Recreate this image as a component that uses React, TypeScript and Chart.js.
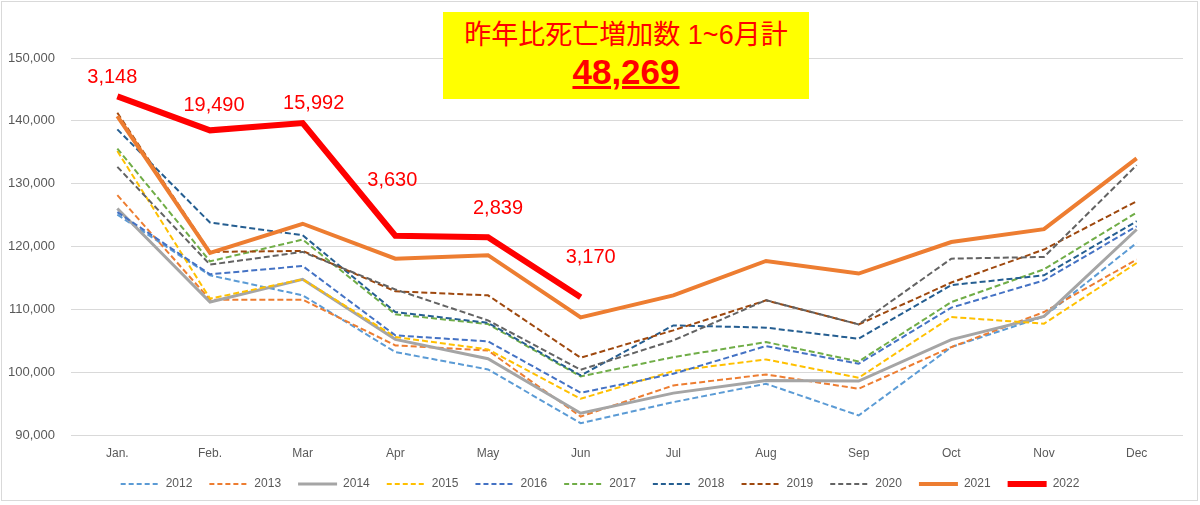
import React, { useRef, useEffect } from 'react';
import { Chart, ChartConfiguration, Plugin, registerables } from 'chart.js';

Chart.register(...registerables);

const months = ['Jan.', 'Feb.', 'Mar', 'Apr', 'May', 'Jun', 'Jul', 'Aug', 'Sep', 'Oct', 'Nov', 'Dec'];

const d2012 = [125100, 115450, 112270, 103250, 100490, 91940, 95290, 98210, 93170, 104040, 108900, 120600];
const d2013 = [128190, 111580, 111580, 104310, 103500, 93000, 97940, 99690, 97420, 104040, 109610, 117950];
const d2014 = [126070, 111200, 114820, 105270, 102190, 93530, 96720, 98740, 98630, 105220, 108930, 122730];
const d2015 = [135200, 111740, 114820, 105640, 103670, 95820, 100230, 102080, 99160, 108820, 107760, 117410];
const d2016 = [125500, 115610, 116940, 105900, 104950, 96780, 99800, 104200, 101390, 110310, 114650, 123250];
const d2017 = [135600, 117680, 121130, 109250, 107700, 99370, 102450, 104840, 101760, 111200, 116410, 125430];
const d2018 = [138650, 123840, 121820, 109610, 107900, 99530, 107490, 107130, 105370, 113900, 115450, 124050];
const d2019 = [141300, 119170, 119330, 112900, 112270, 102350, 106700, 111470, 107650, 114300, 119550, 127230];
const d2020 = [132700, 117150, 119170, 113200, 108290, 100440, 105100, 111500, 107650, 118100, 118370, 132960];
const d2021 = [140750, 119000, 123650, 118100, 118650, 108750, 112270, 117730, 115730, 120750, 122780, 134030];
const d2022 = [143900, 138500, 139650, 121750, 121500, 111950];

// 前年比の増加数（2022のラベル）
const increaseLabels = ['3,148', '19,490', '15,992', '3,630', '2,839', '3,170'];
const totalIncrease = '48,269';

// ラベルの位置ずらし [dx, dy]
const labelOffsets = [[-5, -19], [4, -25], [11, -20], [-3, -55], [10, -29], [10, -40]];

const dash = [6, 3];

const series = [
  { label: '2012', data: d2012, color: '#5B9BD5', width: 2, dashed: true },
  { label: '2013', data: d2013, color: '#ED7D31', width: 2, dashed: true },
  { label: '2014', data: d2014, color: '#A5A5A5', width: 3, dashed: false },
  { label: '2015', data: d2015, color: '#FFC000', width: 2, dashed: true },
  { label: '2016', data: d2016, color: '#4472C4', width: 2, dashed: true },
  { label: '2017', data: d2017, color: '#70AD47', width: 2, dashed: true },
  { label: '2018', data: d2018, color: '#255E91', width: 2, dashed: true },
  { label: '2019', data: d2019, color: '#9E480E', width: 2, dashed: true },
  { label: '2020', data: d2020, color: '#636363', width: 2, dashed: true },
  { label: '2021', data: d2021, color: '#ED7D31', width: 4, dashed: false },
  { label: '2022', data: d2022, color: '#FF0000', width: 6, dashed: false },
];

const labelPlugin: Plugin<'line'> = {
  id: 'increaseLabels',
  afterDatasetsDraw(chart) {
    const meta = chart.getDatasetMeta(series.length - 1);
    const ctx = chart.ctx;
    ctx.save();
    ctx.font = '20px "Liberation Sans", Arial, sans-serif';
    ctx.fillStyle = '#FF0000';
    ctx.textAlign = 'center';
    ctx.textBaseline = 'middle';
    meta.data.forEach((pt, i) => {
      const [dx, dy] = labelOffsets[i] || [0, -20];
      ctx.fillText(increaseLabels[i], pt.x + dx, pt.y + dy);
    });
    ctx.restore();
  },
};

const App: React.FC = () => {
  const canvasRef = useRef<HTMLCanvasElement>(null);
  const chartRef = useRef<Chart | null>(null);

  useEffect(() => {
    document.body.style.margin = '0';
    if (!canvasRef.current) return;
    if (chartRef.current) chartRef.current.destroy();
    const ctx = canvasRef.current.getContext('2d');
    if (!ctx) return;

    const config: ChartConfiguration<'line'> = {
      type: 'line',
      data: {
        labels: months,
        datasets: series.map((s, i) => ({
          label: s.label,
          data: s.data,
          borderColor: s.color,
          backgroundColor: s.color,
          borderWidth: s.width,
          borderDash: s.dashed ? dash : [],
          pointRadius: 0,
          tension: 0,
          fill: false,
          order: series.length - i,
        })),
      },
      options: {
        animation: false,
        responsive: true,
        maintainAspectRatio: false,
        layout: { padding: { left: 0, right: 0, top: 58, bottom: 5 } },
        plugins: {
          legend: {
            position: 'bottom',
            labels: {
              usePointStyle: true,
              pointStyle: 'line',
              pointStyleWidth: 39,
              padding: 17,
              color: '#595959',
              font: { family: '"Liberation Sans Narrow", "Liberation Sans", Arial', size: 12 },
              sort: (a, b) => (a.datasetIndex ?? 0) - (b.datasetIndex ?? 0),
              generateLabels: (chart) => {
                const items = Chart.defaults.plugins.legend.labels.generateLabels(chart);
                return items.map((item) => {
                  const s = series[item.datasetIndex ?? 0];
                  return {
                    ...item,
                    strokeStyle: s.color,
                    fillStyle: s.color,
                    lineWidth: s.width,
                    lineDash: s.dashed ? [5, 3] : [],
                    pointStyle: 'line',
                  };
                });
              },
            },
          },
          tooltip: { enabled: false },
        },
        scales: {
          x: {
            offset: true,
            afterFit: (scale) => {
              scale.height = 25.6;
            },
            grid: { display: false, drawTicks: false },
            border: { display: false },
            ticks: {
              color: '#595959',
              padding: 11,
              font: { family: '"Liberation Sans", Arial', size: 12 },
            },
          },
          y: {
            min: 90000,
            max: 150000,
            afterFit: (scale) => {
              scale.width = 71;
            },
            grid: { color: '#D9D9D9', drawTicks: false },
            border: { display: false },
            ticks: {
              stepSize: 10000,
              padding: 16,
              color: '#595959',
              font: { family: '"Liberation Sans", Arial', size: 13 },
              callback: (v) => Number(v).toLocaleString('en-US'),
            },
          },
          // 右側の余白用（非表示）
          yRight: {
            position: 'right',
            min: 90000,
            max: 150000,
            afterFit: (scale) => {
              scale.width = 17;
            },
            grid: { display: false, drawTicks: false },
            border: { display: false },
            ticks: { display: false },
          },
        },
      },
      plugins: [labelPlugin],
    };

    chartRef.current = new Chart(ctx, config);
    return () => {
      if (chartRef.current) {
        chartRef.current.destroy();
        chartRef.current = null;
      }
    };
  }, []);

  return (
    <div style={{ position: 'relative', width: 1200, height: 505, background: '#fff' }}>
      <div
        style={{
          position: 'absolute',
          left: 1,
          top: 1,
          width: 1195,
          height: 498,
          border: '1px solid #D9D9D9',
        }}
      />
      <div style={{ position: 'absolute', left: 0, top: 0, width: 1200, height: 505 }}>
        <canvas ref={canvasRef} />
      </div>
      <div
        style={{
          position: 'absolute',
          left: 443,
          top: 12,
          width: 366,
          height: 87,
          background: '#FFFF00',
          color: '#FF0000',
          textAlign: 'center',
          fontFamily: '"Liberation Sans", "Noto Sans CJK JP", Arial, sans-serif',
        }}
      >
        <div style={{ fontSize: 27, lineHeight: '34px', marginTop: 6 }}>昨年比死亡増加数 1~6月計</div>
        <div style={{ fontSize: 35, lineHeight: '40px', fontWeight: 'bold', textDecoration: 'underline' }}>
          {totalIncrease}
        </div>
      </div>
    </div>
  );
};

export default App;
